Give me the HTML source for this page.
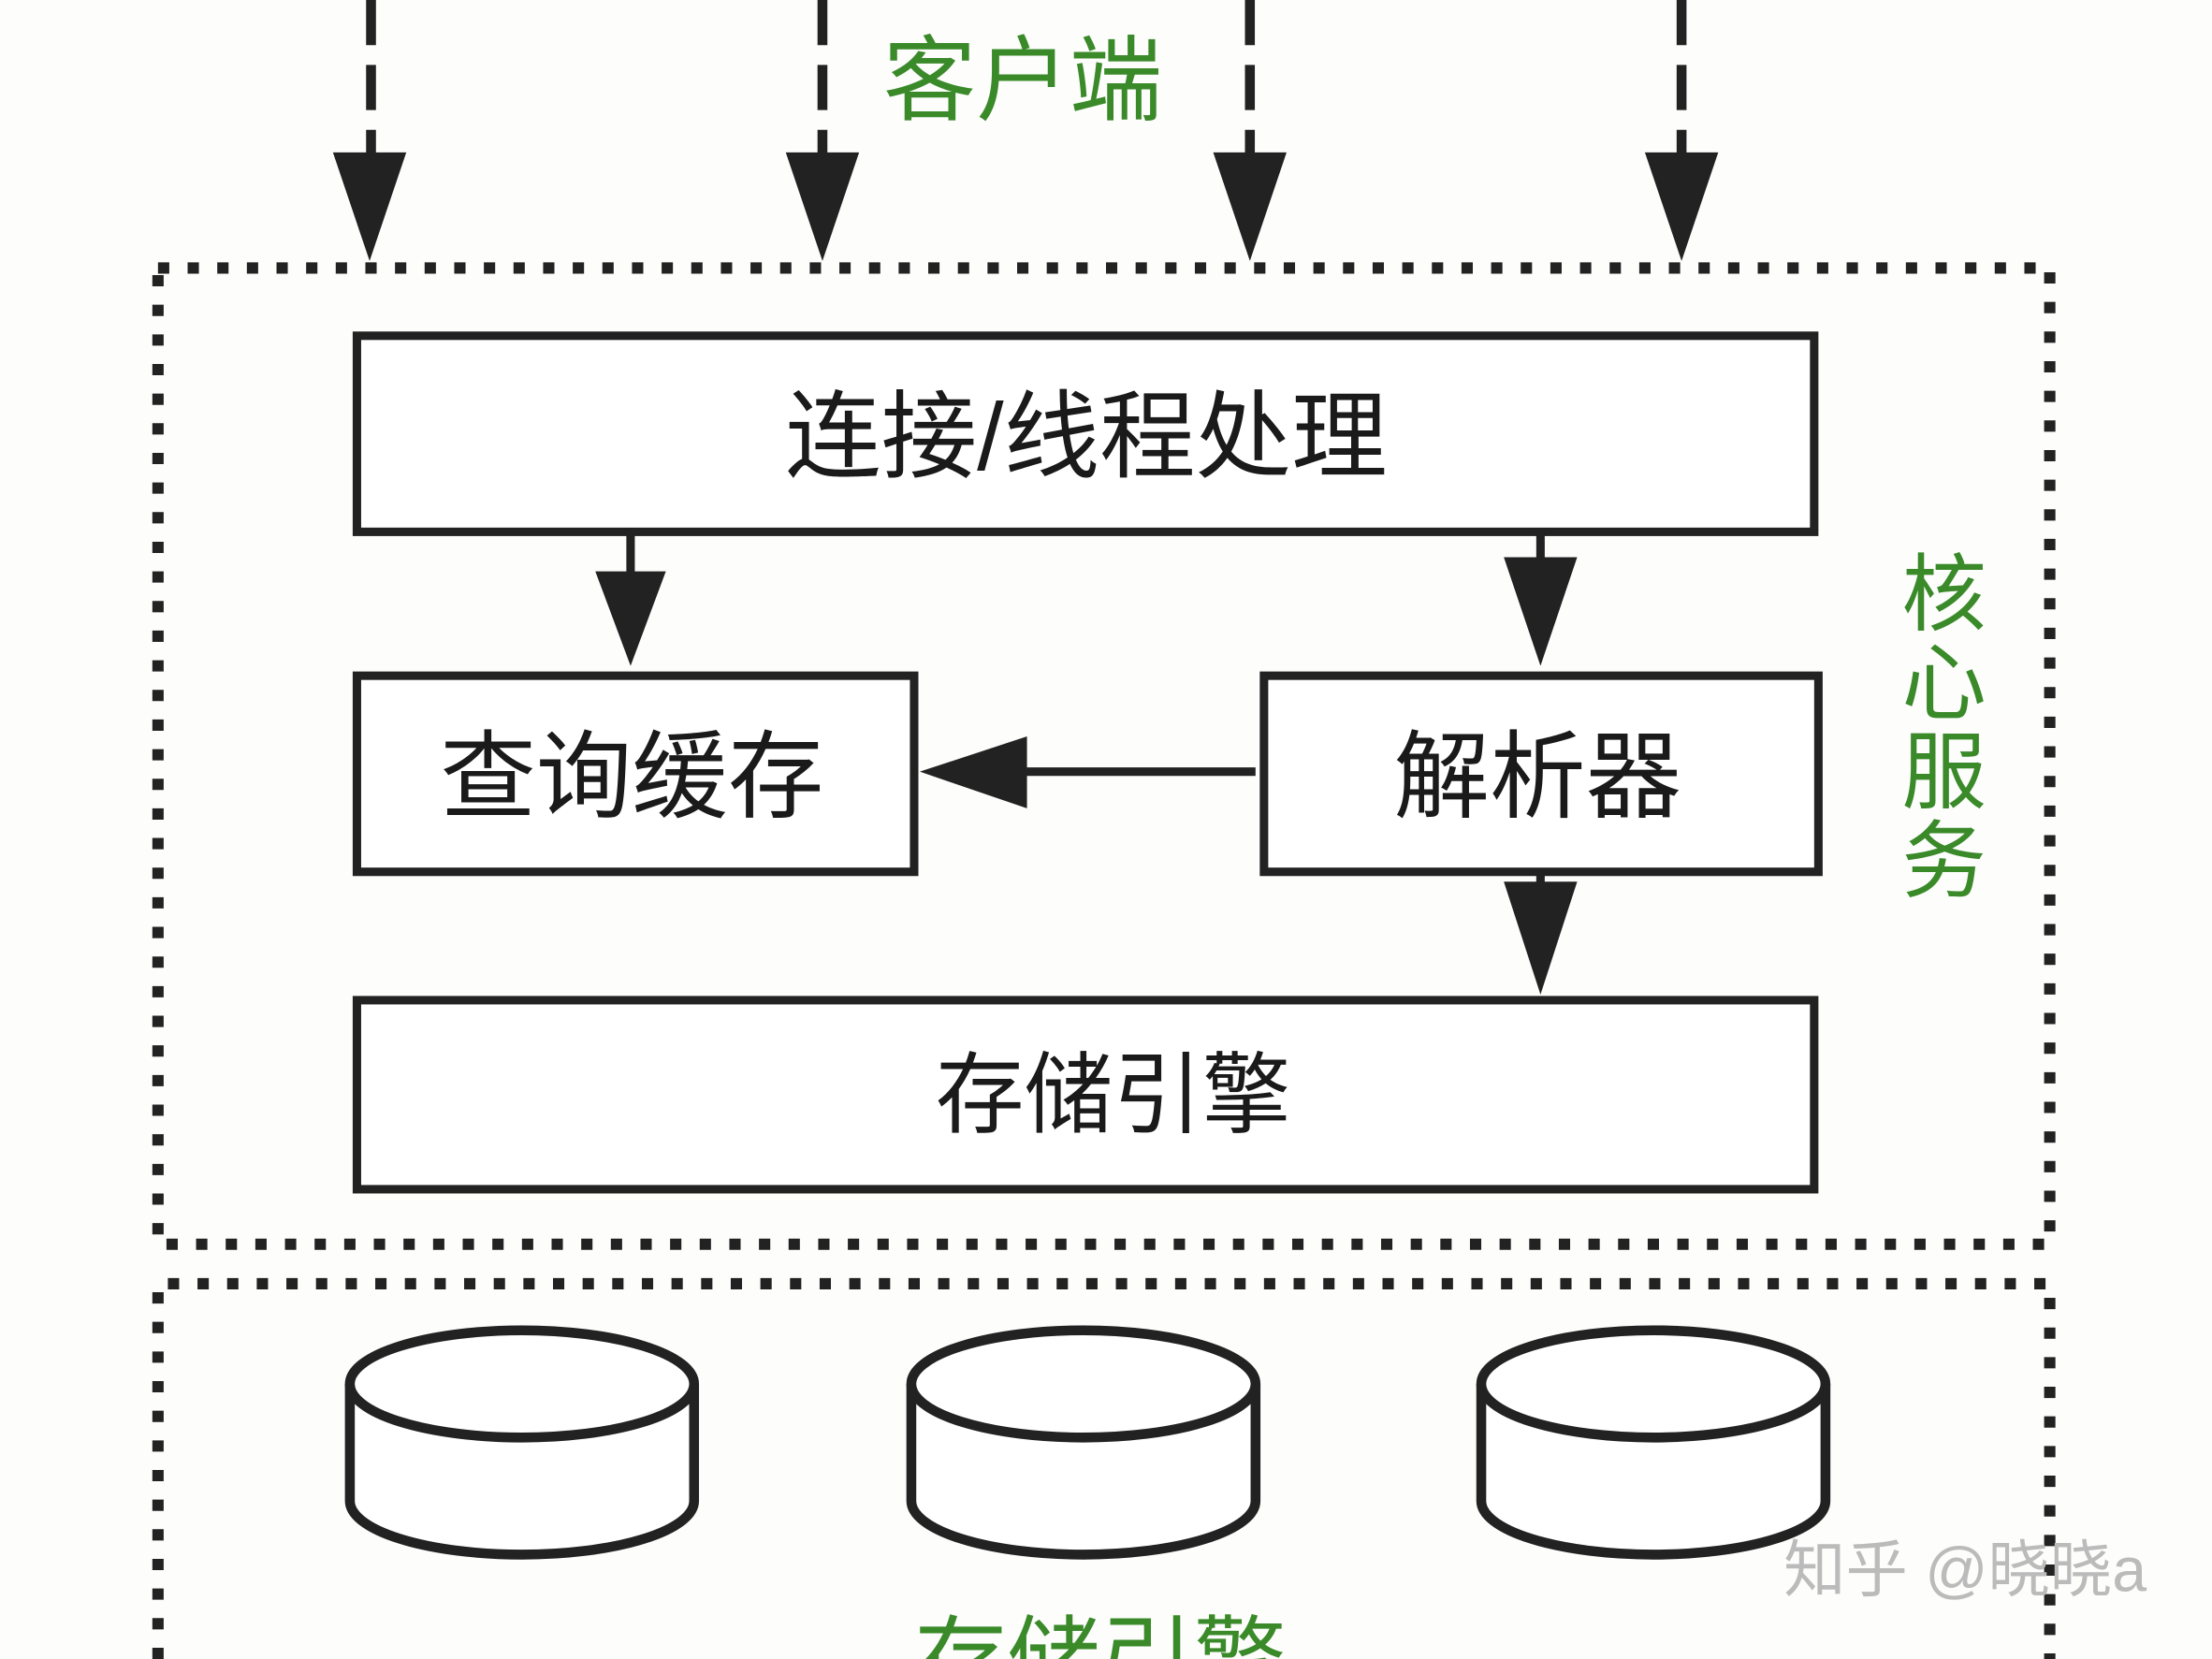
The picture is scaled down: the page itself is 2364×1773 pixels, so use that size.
<!DOCTYPE html>
<html><head><meta charset="utf-8"><style>
html,body{margin:0;padding:0;background:#fdfdfc;}
svg{display:block}
text{font-family:"Liberation Sans","Noto Sans CJK SC",sans-serif;}
</style></head><body>
<svg width="2364" height="1773" viewBox="0 0 1568 1176" preserveAspectRatio="none" xmlns="http://www.w3.org/2000/svg">
<rect width="1568" height="1176" fill="#fdfdfc"/>
<g stroke="#222" stroke-width="7" stroke-dasharray="32 14">
<line x1="263" y1="0" x2="263" y2="110"/>
<line x1="583" y1="0" x2="583" y2="110"/>
<line x1="886" y1="0" x2="886" y2="110"/>
<line x1="1192" y1="0" x2="1192" y2="110"/>
</g>
<g fill="#222">
<polygon points="236,108 288,108 262,185"/>
<polygon points="557,108 609,108 583,185"/>
<polygon points="860,108 912,108 886,185"/>
<polygon points="1166,108 1218,108 1192,185"/>
</g>
<text x="725" y="80" font-size="66" fill="#3a8a2a" text-anchor="middle">客户端</text>
<g fill="none" stroke="#222" stroke-width="8" stroke-dasharray="8 13">
<rect x="112" y="190" width="1341" height="692"/>
<path d="M112 1176 V910 H1453 V1176"/>
</g>
<g fill="#fff" stroke="#222" stroke-width="6">
<rect x="253" y="238" width="1033" height="139"/>
<rect x="253" y="479" width="395" height="139"/>
<rect x="896" y="479" width="393" height="139"/>
<rect x="253" y="709" width="1033" height="134"/>
</g>
<g font-size="68" fill="#1a1a1a" text-anchor="middle">
<text x="770" y="333">连接/线程处理</text>
<text x="448" y="574">查询缓存</text>
<text x="1090" y="574">解析器</text>
<text x="789" y="798" font-size="63">存储引擎</text>
</g>
<g stroke="#222" stroke-width="6">
<line x1="447" y1="377" x2="447" y2="425"/>
<line x1="1092" y1="377" x2="1092" y2="400"/>
<line x1="890" y1="547" x2="720" y2="547"/>
<line x1="1092" y1="618" x2="1092" y2="630"/>
</g>
<g fill="#222">
<polygon points="422,405 472,405 447,472"/>
<polygon points="1066,395 1118,395 1092,472"/>
<polygon points="728,522 728,573 652,547"/>
<polygon points="1066,625 1118,625 1092,705"/>
</g>
<text font-size="60" fill="#3a8a2a" text-anchor="middle">
<tspan x="1378" y="442">核</tspan><tspan x="1378" y="505">心</tspan><tspan x="1378" y="568">服</tspan><tspan x="1378" y="631">务</tspan>
</text>
<g fill="#fff" stroke="#222" stroke-width="7">
<g transform="translate(370,4)">
<path d="M-122 977 V1060 A122 38 0 0 0 122 1060 V977"/>
<ellipse cx="0" cy="977" rx="122" ry="38"/>
</g>
<g transform="translate(768,4)">
<path d="M-122 977 V1060 A122 38 0 0 0 122 1060 V977"/>
<ellipse cx="0" cy="977" rx="122" ry="38"/>
</g>
<g transform="translate(1172,4)">
<path d="M-122 977 V1060 A122 38 0 0 0 122 1060 V977"/>
<ellipse cx="0" cy="977" rx="122" ry="38"/>
</g>
</g>
<text x="780" y="1200" font-size="66" fill="#3a8a2a" text-anchor="middle">存储引擎</text>
<text x="1393" y="1128" font-size="44" fill="#bbb" text-anchor="middle">知乎 @晓晓a</text>
</svg>
</body></html>
